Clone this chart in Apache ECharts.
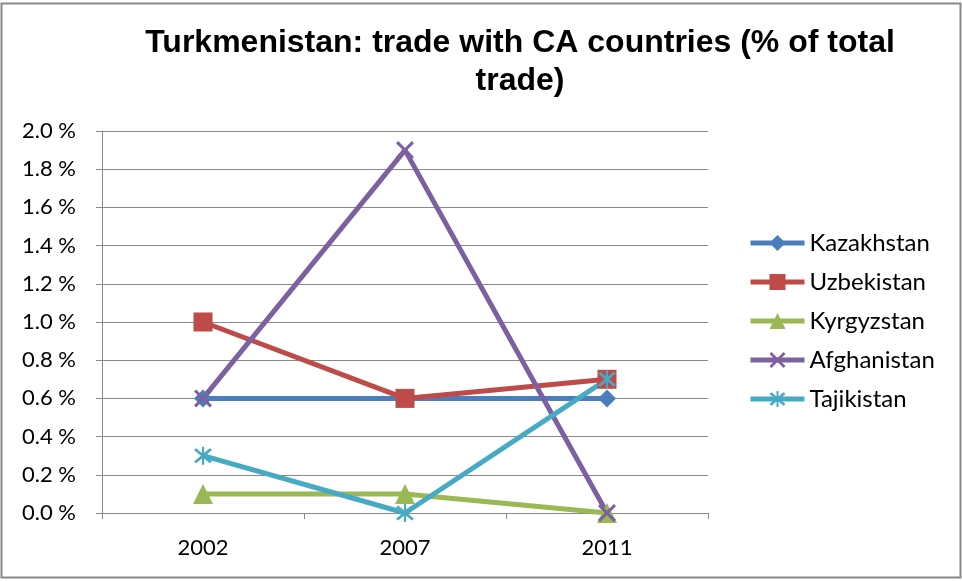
<!DOCTYPE html>
<html>
<head>
<meta charset="utf-8">
<script src="https://cdn.jsdelivr.net/npm/echarts@6/dist/echarts.min.js"></script>
<style>
  html, body { margin: 0; padding: 0; background: #fff; }
  #chart { width: 962px; height: 581px; }
</style>
</head>
<body>
<div id="chart"></div>
<script>
// values, % of total trade
var years = ['2002', '2007', '2011']
var kazakhstan = [0.6, 0.6, 0.6]
var uzbekistan = [1.0, 0.6, 0.7]
var kyrgyzstan = [0.1, 0.1, 0.0]
var afghanistan = [0.6, 1.9, 0.0]
var tajikistan = [0.3, 0.0, 0.7]

var crossPath = 'path://M0,1.2L1.2,0L10,8.8L8.8,10Z M8.8,0L10,1.2L1.2,10L0,8.8Z'
var starPath = 'path://M0,1.2L1.2,0L10,8.8L8.8,10Z M8.8,0L10,1.2L1.2,10L0,8.8Z M4.4,-1L5.6,-1L5.6,11L4.4,11Z'

var labelFont = 'Lato, "Open Sans", sans-serif'

function makeSeries(name, data, color, symbol, size) {
  return {
    name: name,
    type: 'line',
    data: data,
    symbol: symbol,
    symbolSize: size,
    lineStyle: { color: color, width: 5 },
    itemStyle: { color: color },
    animation: false
  }
}

var chart = echarts.init(document.getElementById('chart'))
chart.setOption({
  backgroundColor: '#fff',
  grid: { left: 102, right: 254, top: 131, bottom: 68 },
  graphic: [
    {
      type: 'rect',
      shape: { x: 1.5, y: 3.5, width: 959, height: 574 },
      style: { fill: 'none', stroke: '#888', lineWidth: 2 },
      silent: true
    },
    {
      type: 'text',
      x: 520, y: 24,
      style: {
        text: 'Turkmenistan: trade with CA countries (% of total\ntrade)',
        align: 'center',
        font: 'bold 32px "Liberation Sans", Arial, sans-serif',
        lineHeight: 38,
        fill: '#000'
      }
    }
  ],
  legend: {
    orient: 'vertical',
    left: 743,
    top: 226,
    itemWidth: 54,
    itemHeight: 20,
    itemGap: 15,
    lineStyle: { width: 5 },
    textStyle: { fontFamily: labelFont, fontSize: 24, color: '#000' },
    data: ['Kazakhstan', 'Uzbekistan', 'Kyrgyzstan', 'Afghanistan', 'Tajikistan']
  },
  xAxis: {
    type: 'category',
    data: years,
    boundaryGap: true,
    axisLine: { lineStyle: { color: '#888', width: 1 } },
    axisTick: { show: true, length: 6, lineStyle: { color: '#888' } },
    axisLabel: { fontFamily: labelFont, fontSize: 22, color: '#000', margin: 24 }
  },
  yAxis: {
    type: 'value',
    min: 0,
    max: 2,
    interval: 0.2,
    axisLine: { show: true, lineStyle: { color: '#888', width: 1 } },
    axisTick: { show: true, length: 6, lineStyle: { color: '#888' } },
    splitLine: { lineStyle: { color: '#888', width: 1 } },
    axisLabel: {
      fontFamily: labelFont, fontSize: 22, color: '#000', margin: 26,
      formatter: function (v) { return v.toFixed(1) + ' %' }
    }
  },
  series: [
    makeSeries('Kazakhstan', kazakhstan, '#4A7EBB', 'diamond', 18),
    makeSeries('Uzbekistan', uzbekistan, '#BE4B48', 'rect', 19),
    makeSeries('Kyrgyzstan', kyrgyzstan, '#98B954', 'triangle', 20),
    makeSeries('Afghanistan', afghanistan, '#7D60A0', crossPath, 18),
    makeSeries('Tajikistan', tajikistan, '#46AAC5', starPath, 18)
  ]
})
</script>
</body>
</html>
